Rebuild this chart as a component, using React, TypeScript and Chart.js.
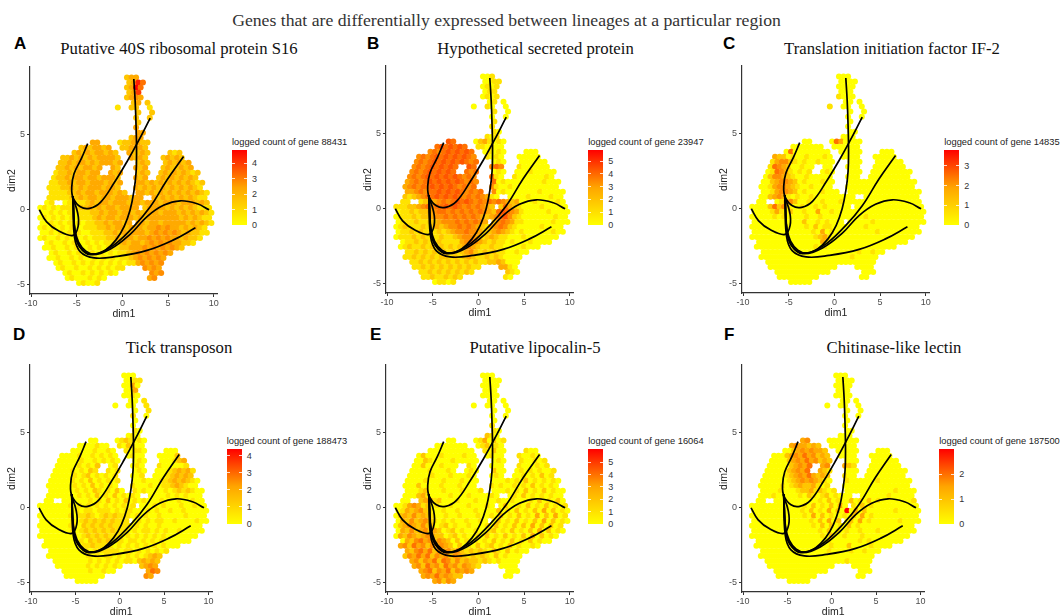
import React, { useEffect, useRef } from "react";
import { Chart, registerables } from "chart.js";

Chart.register(...registerables);

const COL_X = [-9.5,-9,-8.5,-8,-7.5,-7,-6.5,-6,-5.5,-5,-4.5,-4,-3.5,-3,-2.5,-2,-1.5,-1,-0.5,0,0.5,1,1.5,2,2.5,3,3.5,4,4.5,5,5.5,6,6.5,7,7.5,8,8.5,9,9.5];
const ROW_Y = [8.8,8.47,8.13,7.8,7.47,7.13,6.8,6.47,6.13,5.8,5.47,5.13,4.8,4.47,4.13,3.8,3.47,3.13,2.8,2.47,2.13,1.8,1.47,1.13,0.8,0.47,0.13,-0.2,-0.53,-0.87,-1.2,-1.53,-1.87,-2.2,-2.53,-2.87,-3.2,-3.53,-3.87,-4.2,-4.53,-4.87];

const CELL_MASK = [
"....................xxx................",
"....................xxxx...............",
"....................xxxx...............",
"....................xxx................",
"....................xxxx...............",
".....................xx.x..............",
"..................x..xx..x.............",
"......................x..x.............",
"......................x..x.............",
"......................x................",
"......................x................",
"......................xx...............",
".....................xxx...............",
"............xx....xxxxxxx..............",
"..........xxxxxxx..xxxxxx..............",
"........xxxxxxxxxx..xxxxx....xxx.......",
"......xxxxxxxxxxxxx..xxxx...xxxxx......",
".....xxxxxxxxxxxxxx...xxx...xxxxxx.....",
".....xxxxxxxxxx..xx...xxx...xxxxxxx....",
"....xxxxxxxxxx..xxx...xxx..xxxxxxxxx...",
"....xxxxxxxxxxxxxxx...xxx..xxxxxxxxx...",
"...xxxxxxxxxxxxxxxx...xxxxxxxxxxxxxxx..",
"...xxxxxxxxxxxxxxxx...xxxxxxxxxxxxxxx..",
"...xxxxxxxxxxxxxxxxx..xxxxxxxxxxxxxxxx.",
"...xxxxxxxxxxxxxxxxxxxxx..xxxxxxxxxxxx.",
"..xx..xxxxxxxxxxxxxxxxxxxxxxxxxxxxxxxx.",
".xxxxxxxxxxxxxxxxxxxxxx.xxxxxxxxxxxxxxx",
".xxxxxxxxxxxxxxxxxxxxxxxxxxxxxxxxxxxxxx",
".xxxxxxxxxxxxxxxxxxxxxxxxxxxxxxxxxxxxxx",
".xxxxxxxxxxxxxxxxxxxx.xxxxxxxxxxxxxxxxx",
".xxxxxxxxxxxxxxxxxxxxxxxxxxxxxxxxxxxxx.",
".xxxxxxxxxxxxxxxxxxxxxxxxxxxxxxxxxxxxx.",
".xxxxxxxxxxxxxxxxxxxxxxxxxxxxxxxxxxxx..",
"..xxxxxxxxxxxxxxxxxxxxxxxxxxxxxxxxx....",
"..xxxxxxxxxxxxxxxxxxxxxxxxxxxxxxx......",
"...xxxxxxxxxxxxxxxxxxxxxxxxxxx.........",
"...xxxxxxxxxxxxxxxxxxxxxxxxxx..........",
"....xxxxxxxxxxxxxxxxxxxxxxxx...........",
".....xxxxxxxxxxxxxxx....xxxx...........",
"......xxxxxxxxxxxx.......xxx...........",
".......xxxxxxxxx.........xx............",
".........xxxxx.........................",
];

// Colour level (0-9, share of the panel's scale) of each occupied cell, row by row
const LEVELS_A = ["233","2385","2395","237","2343","232","1221","22","22","2","3","33","233",
"331223322","2323323223332","232323323232232212","2232323233332323223232","22323323233323232232323","2232323323323232322323232","1223233233323232232323212","1223233233233323232323232321",
"11223233233323233323232323232121","11122323233323323232323232323211","1111223233233323233232323232323211","111112232332332333233323232323211",
"010111123233233323323332333233323211","0101011112232323323333233332323232111",
"00101010111223233233232333233323232321","01010101011123233233323233333332323211","0010101010112232332333233233333232321",
"0101010100111223233233323343433232321","0010101010011122323233323434343232211","010010101010111223233233434343323221",
"010010100101011223233234343433221","0010010100101011122333434343432","010010100101010112343434343","00100101001010101123434343","010010101010101011343434",
"0100100101010114343","010010101010434","01000101034","01001"];

const LEVELS_B = ["001","0011","0101","011","0101","010","0100","10","00","1","1","10","101",
"650231010","5656565110100","454565656501010000","4545656565654101000000","45456565656545010000000","4545656565654541000000000","4545656565545010000100000","4545656565654545101000000100",
"34545656565654545010000000010000","34545565656545454100100000000000","3345455656565454540100000001000000","212345565656545454310000010000100",
"111223454565654545454323000100001000","1112234545565654545432253210000100000",
"01121223455454545454325654310000010000","01112122344545454543234564210000000100","0111211223444545454324543110000001000",
"0121112123234454543213454210000010000","0112121112123445443123432101000000100","011121211121123444312321100010000000",
"011212112111134543212110100010000","0121121212121234321121100001000","112121212121234212121100100","11212121221212321121210000","112121212121212112232000",
"1121212121212113310","112121212121210","11211212110","01101"];

const LEVELS_C = ["000","0000","0000","000","1000","000","1000","00","00","0","0","00","000",
"000530000","0000000000000","050000000000000000","3220100100010000000000","13442101001000000000000","1543200100000000000000000","0154310101010000000000000","0244321001000000000000000000",
"00234432010001000000000000000000","00134432100100000000000000000000","0013443201000100000000000000000000","002343101001000000000000000000000",
"000134200100100010000000000000000000","0000252410010010100000000000000000000",
"00001310200100300100000000000000000000","00000101000010010000000001000000000000","0000000000020010100000000100000000000",
"0000000000001020110000000100000000000","0000000000000103010000000001000000000","000000000000001231000000000000000000",
"000000000000003100000000000000000","0000000000000101000000000000000","000000000000000000000100100","00000000000000000000100000","000000000000000000000000",
"0000000000000000000","000000000000000","00000000000","00000"];

const LEVELS_D = ["000","0011","0030","003","0010","001","0001","01","10","0","0","10","010",
"000121010","0000100102100","000001001010110000","0000100101010010000002","00000100101010010000123","0000010102010101000001323","0000101021101010000123231","0000010120101010010001232321",
"00000101020101010010001123232100","00000010102010101000100112321000","0000001010210102010100001012121000","000000010102010201010000010101000",
"000000001010201020101000100010010001","0000000101010101010101000101000100100",
"00000000101101110101100010100100100000","00000001011210121211101010010000010000","0000000101212121211101010110010000100",
"0000000110212121211110101001000000000","0000000101212121211101011010100100000","000000001012121211101010101010000000",
"000000001021212111011010101000000","0000000001121111010101010101000","000000001011111101101010101","00000000010101101010101232","000000001010101011023232",
"0000000101010102343","000000100100354","00000000043","00000"];

const LEVELS_E = ["000","0000","0000","000","0000","000","0000","00","00","0","1","10","210",
"000130201","0000000012010","000000000010200100","0200010000100010010010","00210000100000010100101","0020001000100001000101010","0000100010010200010101001","0000010001000100100010102010",
"00001000100010000001010201010100","00020000100010001010010102010100","0001200010001000100010102010201000","000231000010001000010010201010100",
"002341200010001000010010001020102010","0013431201001000100010020010201020101",
"01323421001001000100002010201020302010","02324232100100100010010201020103020301","0324234210101001001002010201020302010",
"0234324220120100100010201020203020201","0324234232012010010012010201020302010","032432343220120100102010201020302010",
"032453424320201010102010201020100","3425342434320201020120102010010","324535243424212121021020100","24353524342432121210201000","342435254242322121010000",
"3425342534243210000","345243524343000","34353432200","34243"];

const LEVELS_F = ["000","0000","0000","000","0000","000","0000","00","00","0","0","00","000",
"340000000","3433232000000","002343433200000000","0002343534232000000000","00002343534232000000000","0000023435343210000000000","0000023435321000000000000","0000012343532321000000000000",
"00000012343432101000000100000000","00000101232231010000000000000000","0000100012231210100000000000100000","000100000102101201000000000100000",
"000000000000102010020102010000000100","0000000000001020102030102010000000000",
"00000000000102010302090302000000100000","00000000000010302010010203010000000000","0000000000000102030202030100000010000",
"0000000000000010202010201000000000000","0000000000000001020101001000100000000","000000000000000010200100010000000000",
"000000000000000010000001010000000","0000000000000000010002000010000","000000000000000100001001000","00000000000000000000000000","000000000000000000100000",
"0000000000000000000","000000000000000","00000000000","00000"];

const LINEAGE_STALK = [[1.25,8.7],[1.4,7.2],[1.5,5.5],[1.55,4],[1.5,2.5],[1.25,1.2],[0.85,0],[0.2,-1.1],[-0.7,-2],[-1.8,-2.65],[-3,-2.95],[-4,-2.75],[-4.8,-2.15],[-5.2,-1.3],[-5.35,0],[-5.45,0.9]];
const LINEAGE_UPPER = [[-3.8,4.4],[-4.5,3.4],[-5.3,2.4],[-5.55,1.5],[-5.4,0.8],[-4.6,0.2],[-3.6,0.1],[-2.4,0.5],[-0.9,1.8],[0.5,3.2],[1.6,4.4],[3.05,6.1]];
const LINEAGE_LEFT = [[-9.1,0],[-8.3,-0.8],[-7,-1.4],[-5.4,-1.7],[-4.85,-1.1],[-4.9,-0.2],[-5.5,0.9]];
const LINEAGE_RIGHT_UP = [[-5.4,0.9],[-5.2,-1.5],[-4.7,-2.4],[-3.5,-2.95],[-1.3,-2.5],[1.25,-1.1],[3.05,0.2],[4.9,2],[6.7,3.55]];
const LINEAGE_RIGHT = [[-5.4,0.9],[-5.2,-1.5],[-4.7,-2.45],[-3.5,-2.98],[-1.3,-2.6],[0.9,-1.6],[2.7,-0.45],[4.5,0.3],[6.35,0.6],[8.2,0.4],[9.5,0]];
const LINEAGE_LOW = [[-5.4,0.9],[-5.25,-1.8],[-4.6,-2.8],[-3.1,-3.2],[-0.6,-3.1],[2.7,-2.7],[5.6,-2],[8,-1.2]];
const LINEAGES = [LINEAGE_STALK, LINEAGE_UPPER, LINEAGE_LEFT, LINEAGE_RIGHT_UP, LINEAGE_RIGHT, LINEAGE_LOW];

const X_TICKS = [-10,-5,0,5,10];
const Y_TICKS = [-5,0,5];

const PANEL_LETTERS = ["A","B","C","D","E","F"];
const PANEL_TITLES = ["Putative 40S ribosomal protein S16","Hypothetical secreted protein","Translation initiation factor IF-2","Tick transposon","Putative lipocalin-5","Chitinase-like lectin"];
const GENE_IDS = ["88431","23947","14835","188473","16064","187500"];
const SCALE_MAX = [4.85,5.86,3.8,4.4,6.07,3.0];
const LEGEND_TICKS = [[0,1,2,3,4],[0,1,2,3,4,5],[0,1,2,3],[0,1,2,3,4],[0,1,2,3,4,5],[0,1,2]];
const PANEL_LEVELS = [LEVELS_A,LEVELS_B,LEVELS_C,LEVELS_D,LEVELS_E,LEVELS_F];

// layout (page pixels)
const AXIS_LEFT = [29.7,386,742.3,29.7,386,742.3];
const AXIS_BOTTOM = [293,292.7,292.7,591.7,591.7,591.7];
const UNIT_X = [9.13,9.13,9.13,8.87,9.13,8.87];
const TITLE_X = [179,535.5,892,179,535,894];
const TITLE_Y = [49,49,49,348,348,348];
const LETTER_X = [14,367,723,13,370,724];
const LETTER_Y = [44,44,44,335,335,335];
const LEGEND_LEFT = [232,588.3,944.3,226.7,588.3,939.3];
const LEGEND_TOP = [150,150,150,449,449,449];

const X_MIN = -10.12, X_MAX = 10.45, Y_MIN = -5.6, Y_MAX = 9.5;
const UNIT_Y = 15;
const GUTTER_L = 30, GUTTER_B = 27, PAD_T = 2, PAD_R = 3;

function cellsFor(levels: string[], max: number) {
  const pts: { x: number; y: number }[] = [];
  const colors: string[] = [];
  CELL_MASK.forEach((row, r) => {
    let k = 0;
    const digits = levels[r] || "";
    for (let c = 0; c < row.length; c++) {
      if (row[c] !== "x") continue;
      const level = Number(digits[k] ?? "0");
      k++;
      const value = (level / 9) * max;
      const g = Math.round(255 * (1 - value / max));
      pts.push({ x: COL_X[c] + (r % 2 ? 0.25 : 0), y: ROW_Y[r] });
      colors.push(`rgb(255,${g},0)`);
    }
  });
  return { pts, colors };
}

function noScalePadding(s: any) {
  s.paddingTop = 0; s.paddingBottom = 0; s.paddingLeft = 0; s.paddingRight = 0;
}

function Panel({ i }: { i: number }) {
  const ref = useRef<HTMLCanvasElement>(null);
  const plotW = UNIT_X[i] * (X_MAX - X_MIN);
  const plotH = UNIT_Y * (Y_MAX - Y_MIN);
  const w = Math.round(GUTTER_L + plotW + PAD_R);
  const h = Math.round(PAD_T + plotH + GUTTER_B);
  const left = AXIS_LEFT[i] - GUTTER_L;
  const top = AXIS_BOTTOM[i] - plotH - PAD_T;
  useEffect(() => {
    const { pts, colors } = cellsFor(PANEL_LEVELS[i], SCALE_MAX[i]);
    const lineSets = LINEAGES.map((l, n) => ({
      label: "lineage " + (n + 1),
      data: l.map(([x, y]) => ({ x, y })),
      showLine: true,
      borderColor: "#000",
      borderWidth: 1.7,
      pointRadius: 0,
      tension: 0.4,
      fill: false,
    }));
    const chart = new Chart(ref.current as HTMLCanvasElement, {
      type: "scatter",
      data: {
        datasets: [
          ...lineSets,
          { label: "cells", data: pts, pointBackgroundColor: colors, pointBorderWidth: 0, pointRadius: 3, showLine: false },
        ],
      } as any,
      options: {
        animation: false,
        responsive: false,
        maintainAspectRatio: false,
        layout: { autoPadding: false, padding: { top: PAD_T, right: w - GUTTER_L - plotW, left: 0, bottom: 0 } },
        plugins: { legend: { display: false }, tooltip: { enabled: false } },
        scales: {
          x: {
            type: "linear", min: X_MIN, max: X_MAX,
            afterBuildTicks: (s: any) => { s.ticks = X_TICKS.map((value) => ({ value })); },
            afterFit: (s: any) => { s.height = GUTTER_B; noScalePadding(s); },
            border: { display: true, color: "#333", width: 1.2 },
            grid: { display: true, drawOnChartArea: false, drawTicks: true, tickLength: 3, tickColor: "#333" },
            ticks: { color: "#4d4d4d", font: { family: "Liberation Sans", size: 9 }, padding: 1, maxRotation: 0, autoSkip: false },
            title: { display: true, text: "dim1", color: "#222", font: { family: "Liberation Sans", size: 10.5 }, padding: { top: 0, bottom: 1 } },
          },
          y: {
            type: "linear", min: Y_MIN, max: Y_MAX,
            afterBuildTicks: (s: any) => { s.ticks = Y_TICKS.map((value) => ({ value })); },
            afterFit: (s: any) => { s.width = GUTTER_L; noScalePadding(s); },
            border: { display: true, color: "#333", width: 1.2 },
            grid: { display: true, drawOnChartArea: false, drawTicks: true, tickLength: 3, tickColor: "#333" },
            ticks: { color: "#4d4d4d", font: { family: "Liberation Sans", size: 9 }, padding: 2 },
            title: { display: true, text: "dim2", color: "#222", font: { family: "Liberation Sans", size: 10.5 }, padding: { top: 6, bottom: 0 } },
          },
        },
      } as any,
    });
    return () => chart.destroy();
  }, [i]);
  return <canvas ref={ref} width={w} height={h} style={{ position: "absolute", left, top, width: w, height: h }} />;
}

function Legend({ i }: { i: number }) {
  const barL = LEGEND_LEFT[i], barT = LEGEND_TOP[i], barW = 15, barH = 75;
  const max = SCALE_MAX[i];
  const sans = '"Liberation Sans", sans-serif';
  return (
    <>
      <div style={{ position: "absolute", left: barL, top: barT - 15, fontFamily: sans, fontSize: 9.3, lineHeight: "14px", color: "#222", whiteSpace: "nowrap" }}>
        logged count of gene {GENE_IDS[i]}
      </div>
      <div style={{ position: "absolute", left: barL, top: barT, width: barW, height: barH, background: "linear-gradient(to top,#ffff00,#ffa500 50%,#ff0000)" }} />
      {LEGEND_TICKS[i].map((v) => {
        const y = barT + barH - (v / max) * barH;
        return (
          <React.Fragment key={v}>
            <div style={{ position: "absolute", left: barL, top: y - 0.5, width: 3, height: 1, background: "rgba(255,255,255,0.8)" }} />
            <div style={{ position: "absolute", left: barL + barW - 3, top: y - 0.5, width: 3, height: 1, background: "rgba(255,255,255,0.8)" }} />
            <div style={{ position: "absolute", left: barL + barW + 5, top: y - 6, fontFamily: sans, fontSize: 9, lineHeight: "12px", color: "#333" }}>{v}</div>
          </React.Fragment>
        );
      })}
    </>
  );
}

export default function App() {
  const serif = '"Liberation Serif", serif';
  return (
    <div style={{ position: "absolute", left: 0, top: 0, width: 1062, height: 615, overflow: "hidden", background: "#fff" }}>
      <div style={{ position: "absolute", left: 0, width: 1013, top: 10, textAlign: "center", fontFamily: serif, fontSize: 17.7, lineHeight: "20px", color: "#333", whiteSpace: "nowrap" }}>
        Genes that are differentially expressed between lineages at a particular region
      </div>
      {PANEL_TITLES.map((t, i) => (
        <React.Fragment key={t}>
          <div style={{ position: "absolute", left: LETTER_X[i], top: LETTER_Y[i] - 10, fontFamily: '"Liberation Sans", sans-serif', fontWeight: "bold", fontSize: 17, lineHeight: "20px", color: "#000" }}>{PANEL_LETTERS[i]}</div>
          <div style={{ position: "absolute", left: TITLE_X[i] - 200, width: 400, top: TITLE_Y[i] - 11, textAlign: "center", fontFamily: serif, fontSize: 16.7, lineHeight: "22px", color: "#111", whiteSpace: "nowrap" }}>{t}</div>
          <Panel i={i} />
          <Legend i={i} />
        </React.Fragment>
      ))}
    </div>
  );
}
